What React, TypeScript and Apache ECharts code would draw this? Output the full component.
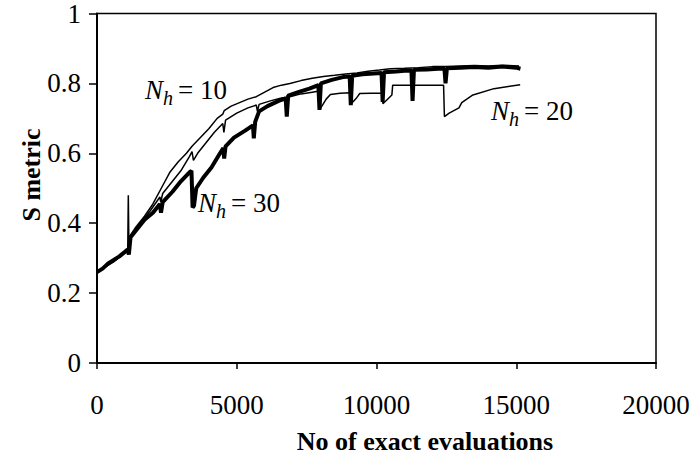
import React, { useEffect, useRef } from "react";
import * as echarts from "echarts";

const xTicks = [0, 5000, 10000, 15000, 20000];
const yTicks = [0, 0.2, 0.4, 0.6, 0.8, 1];

const nh10: [number, number][] = [
  [0, 0.26], [300, 0.275], [600, 0.29], [900, 0.31], [1100, 0.325], [1150, 0.36], [1400, 0.39],
  [1700, 0.42], [2000, 0.455], [2300, 0.5], [2600, 0.545], [2900, 0.575], [3200, 0.6], [3400, 0.62],
  [3700, 0.645], [4000, 0.67], [4300, 0.7], [4500, 0.712], [4550, 0.722], [4800, 0.735], [5100, 0.745],
  [5400, 0.755], [5700, 0.762], [6000, 0.775], [6300, 0.788], [6600, 0.795], [6900, 0.8], [7300, 0.808],
  [7700, 0.815], [8100, 0.82], [8500, 0.823], [8900, 0.827], [9300, 0.83], [9700, 0.835], [10100, 0.838],
  [10500, 0.842], [11000, 0.843], [11500, 0.845], [12000, 0.848], [12500, 0.848], [13000, 0.85],
  [13500, 0.851], [14000, 0.85], [14500, 0.852], [15100, 0.85],
];

const nh20: [number, number][] = [
  [0, 0.26], [300, 0.275], [600, 0.29], [900, 0.31], [1100, 0.325], [1120, 0.48], [1140, 0.35],
  [1300, 0.375], [1600, 0.405], [1900, 0.435], [2250, 0.475], [2280, 0.46], [2350, 0.485], [2700, 0.52],
  [3000, 0.55], [3300, 0.59], [3400, 0.605], [3450, 0.58], [3600, 0.6], [3900, 0.63], [4200, 0.66],
  [4500, 0.685], [4540, 0.66], [4600, 0.695], [5000, 0.715], [5400, 0.73], [5700, 0.738], [5740, 0.72],
  [5800, 0.74], [6200, 0.75], [6600, 0.758], [6900, 0.762], [7300, 0.77], [7700, 0.775], [7950, 0.778],
  [7990, 0.728], [8200, 0.755], [8350, 0.768], [8700, 0.772], [9050, 0.773], [9080, 0.74], [9300, 0.76],
  [9400, 0.771], [9800, 0.772], [10200, 0.772], [10230, 0.742], [10550, 0.767], [10580, 0.795],
  [11000, 0.795], [11500, 0.795], [12000, 0.795], [12400, 0.795], [12430, 0.705], [12600, 0.715],
  [12950, 0.73], [13050, 0.745], [13450, 0.767], [14200, 0.785], [15140, 0.796],
];

const nh30: [number, number][] = [
  [0, 0.26], [200, 0.27], [400, 0.285], [600, 0.295], [800, 0.305], [1000, 0.318], [1100, 0.325],
  [1140, 0.31], [1200, 0.36], [1400, 0.38], [1700, 0.41], [2000, 0.43], [2250, 0.455], [2290, 0.43],
  [2350, 0.46], [2700, 0.49], [3000, 0.52], [3300, 0.545], [3380, 0.55], [3420, 0.445], [3470, 0.45],
  [3550, 0.5], [3800, 0.53], [4100, 0.56], [4400, 0.6], [4520, 0.615], [4550, 0.585], [4600, 0.62],
  [4900, 0.645], [5300, 0.665], [5580, 0.68], [5610, 0.643], [5660, 0.69], [5800, 0.72], [6100, 0.735],
  [6500, 0.75], [6750, 0.757], [6790, 0.705], [6840, 0.765], [7200, 0.775], [7600, 0.785], [7920, 0.795],
  [7960, 0.724], [8010, 0.8], [8400, 0.81], [8800, 0.818], [9040, 0.82], [9080, 0.738], [9130, 0.822],
  [9500, 0.826], [9900, 0.828], [10180, 0.83], [10220, 0.747], [10270, 0.832], [10700, 0.834],
  [11000, 0.836], [11250, 0.837], [11290, 0.75], [11340, 0.839], [11800, 0.84], [12200, 0.842],
  [12430, 0.842], [12470, 0.8], [12520, 0.843], [13000, 0.845], [13500, 0.847], [14000, 0.845],
  [14500, 0.848], [15000, 0.845], [15150, 0.842],
];

const labels = [
  { value: "10", x: 145, y: 76 },
  { value: "30", x: 198, y: 189 },
  { value: "20", x: 491, y: 97 },
];

const FONT = "'Liberation Serif', 'Times New Roman', serif";

export default function App() {
  const ref = useRef<HTMLDivElement>(null);
  useEffect(() => {
    if (!ref.current) return;
    const chart = echarts.init(ref.current, undefined, { renderer: "svg" });
    const line = (name: string, data: [number, number][], width: number) => ({
      name,
      type: "line",
      data,
      showSymbol: false,
      symbol: "none",
      lineStyle: { color: "#000", width },
      z: width > 2 ? 3 : 2,
    });
    const txt = (text: string, x: number, y: number, size: number, italic: boolean) => ({
      type: "text",
      x,
      y,
      style: {
        text,
        fill: "#000",
        fontFamily: FONT,
        fontSize: size,
        fontStyle: italic ? "italic" : "normal",
        textAlign: "left",
        textVerticalAlign: "middle",
      },
    });
    const label = (v: string, x: number, y: number) => ({
      type: "group",
      x,
      y,
      children: [
        txt("N", 0, 14, 27, true),
        txt("h", 18, 22, 20, true),
        txt(`= ${v}`, 33, 14, 27, false),
      ],
    });
    chart.setOption({
      animation: false,
      grid: {
        left: 97,
        top: 11,
        right: 39,
        bottom: 96,
        show: true,
        borderColor: "#000",
        borderWidth: 1.5,
        backgroundColor: "transparent",
      },
      xAxis: {
        type: "value",
        min: xTicks[0],
        max: xTicks[xTicks.length - 1],
        interval: xTicks[1] - xTicks[0],
        axisLine: { show: true, lineStyle: { color: "#000", width: 2 } },
        axisTick: { show: true, inside: false, length: 6, lineStyle: { color: "#000", width: 1.5 } },
        splitLine: { show: false },
        axisLabel: {
          color: "#000",
          fontFamily: FONT,
          fontSize: 27,
          margin: 28,
          formatter: (v: number) => String(v),
        },
      },
      yAxis: {
        type: "value",
        min: yTicks[0],
        max: yTicks[yTicks.length - 1],
        interval: yTicks[1] - yTicks[0],
        axisLine: { show: true, lineStyle: { color: "#000", width: 2 } },
        axisTick: { show: true, inside: false, length: 8, lineStyle: { color: "#000", width: 1.5 } },
        splitLine: { show: false },
        axisLabel: {
          color: "#000",
          fontFamily: FONT,
          fontSize: 27,
          margin: 16,
          formatter: (v: number) => String(Math.round(v * 10) / 10),
        },
      },
      series: [line("Nh = 10", nh10, 1.5), line("Nh = 20", nh20, 1.5), line("Nh = 30", nh30, 4)],
      graphic: [
        ...labels.map((l) => label(l.value, l.x, l.y)),
        {
          type: "text",
          x: 425,
          y: 441,
          style: {
            text: "No of exact evaluations",
            fontFamily: FONT,
            fontSize: 26,
            fontWeight: "bold",
            fill: "#000",
            textAlign: "center",
            textVerticalAlign: "middle",
          },
        },
        {
          type: "text",
          x: 31,
          y: 175,
          rotation: Math.PI / 2,
          style: {
            text: "S metric",
            fontFamily: FONT,
            fontSize: 26,
            fontWeight: "bold",
            fill: "#000",
            textAlign: "center",
            textVerticalAlign: "middle",
          },
        },
      ],
    });
    return () => chart.dispose();
  }, []);
  return (
    <div
      ref={ref}
      style={{ position: "fixed", left: 0, top: 0, width: 695, height: 459, background: "#fff" }}
    />
  );
}
